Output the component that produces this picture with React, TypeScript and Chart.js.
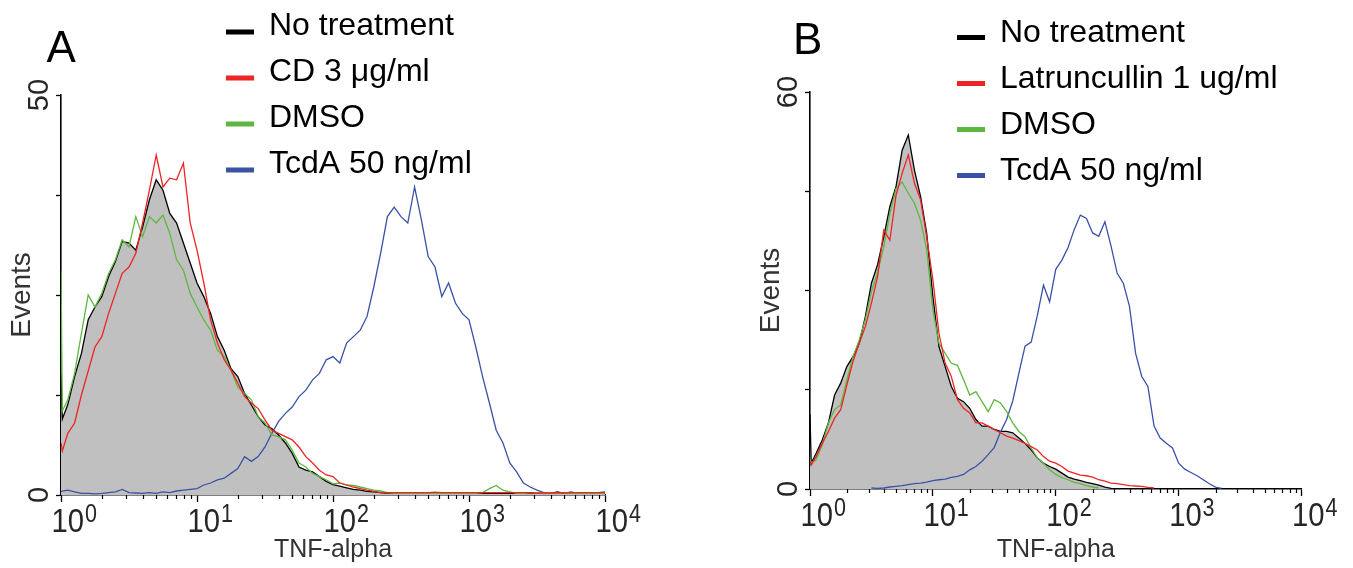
import React, { useEffect, useRef } from "react";
import { Chart, registerables } from "chart.js";

Chart.register(...registerables);

// TNF-alpha fluorescence channels (log spaced)
const TNF_CHANNELS = [
  1, 1.023, 1.122, 1.259, 1.413, 1.585, 1.778, 1.995, 2.239, 2.512, 2.818,
  3.162, 3.548, 3.981, 4.467, 5.012, 5.623, 6.31, 7.079, 7.943, 8.913,
  10, 11.22, 12.59, 14.13, 15.85, 17.78, 19.95, 22.39, 25.12, 28.18,
  31.62, 35.48, 39.81, 44.67, 50.12, 56.23, 63.1, 70.79, 79.43, 89.13,
  100, 112.2, 125.9, 141.3, 158.5, 177.8, 199.5, 223.9, 251.2, 281.8,
  316.2, 354.8, 398.1, 446.7, 501.2, 562.3, 631, 707.9, 794.3, 891.3,
  1000, 1122, 1259, 1413, 1585, 1778, 1995, 2239, 2512, 2818,
  3162, 3548, 3981, 4467, 5012, 5623, 6310, 7079, 7943, 8913,
  10000,
];

const X_TICKS = [
  1, 2, 3, 4, 5, 6, 7, 8, 9,
  10, 20, 30, 40, 50, 60, 70, 80, 90,
  100, 200, 300, 400, 500, 600, 700, 800, 900,
  1000, 2000, 3000, 4000, 5000, 6000, 7000, 8000, 9000,
  10000,
];
const DECADES = [1, 10, 100, 1000, 10000];
const DECADE_BASE = "10";
const DECADE_EXPONENTS = ["0", "1", "2", "3", "4"];

const Y_TICKS_A = [0, 12.5, 25, 37.5, 50];
const Y_TICKS_B = [0, 15, 30, 45, 60];

const LABELS_A = ["No treatment", "CD 3 \u03bcg/ml", "DMSO", "TcdA 50 ng/ml"];
const LABELS_B = ["No treatment", "Latruncullin 1 ug/ml", "DMSO", "TcdA 50 ng/ml"];

// Panel A
const A_NO_TREATMENT = [
  15, 9.5, 11.3, 14.8, 17.7, 21.9, 23.5, 24.8, 27.3, 29.2, 31.7, 31.5, 30.6, 33.5, 36.9, 39.4, 38.1, 35.2, 34, 31.5, 29,
  26.5, 24.8, 22.7, 19.8, 18.1, 15.8, 14.8, 12.7, 11.25, 9.8, 8.75, 8.3, 7.5, 6.5, 5.2, 3.5, 3.1, 2.9, 2.3, 1.7,
  1.3, 1.1, 0.9, 0.7, 0.6, 0.45, 0.4, 0.3, 0.25, 0.2, 0.2, 0.25, 0.2, 0.2, 0.2, 0.25, 0.2, 0.2, 0.2, 0.2,
  0.2, 0.2, 0.25, 0.2, 0.2, 0.2, 0.2, 0.2, 0.3, 0.2, 0.2, 0.2, 0.2, 0.4, 0.2, 0.2, 0.2, 0.2, 0.2, 0.2,
  0.2,
];
const A_CD = [
  6.5, 5.5, 7.7, 9, 12.5, 15.5, 18.5, 19.8, 22.7, 25.2, 27.7, 28.5, 30.2, 34, 38.1, 42.5, 38.5, 39.6, 39.4, 41.5, 34,
  30.6, 26.5, 21.9, 19, 16.9, 15.6, 14, 12.3, 11.5, 10.8, 9.4, 8.1, 7.7, 7.3, 6.9, 6, 4.8, 4, 3.1, 2.5,
  2.3, 1.5, 1.25, 1.0, 0.8, 0.6, 0.45, 0.3, 0.3, 0.3, 0.3, 0.3, 0.3, 0.3, 0.3, 0.35, 0.3, 0.3, 0.3, 0.3,
  0.3, 0.3, 0.3, 0.3, 0.3, 0.3, 0.3, 0.3, 0.3, 0.3, 0.25, 0.25, 0.25, 0.3, 0.25, 0.3, 0.3, 0.3, 0.3, 0.3,
  0.3,
];
const A_DMSO = [
  28, 10.5, 11.9, 15.2, 20.2, 25, 23.5, 25.2, 27.7, 29.4, 31.9, 31, 34.8, 32.3, 34.8, 34, 35, 32.7, 29.4, 28.1, 25.2,
  23.5, 21.9, 20.6, 18.1, 17.3, 15.6, 13.5, 12.7, 11.9, 9.8, 9, 7.5, 7.3, 6.9, 5.6, 4, 3.5, 2.7, 2.3, 1.9,
  1.4, 1.5, 1.25, 1.2, 1.0, 0.8, 0.6, 0.5, 0.3, 0.2, 0.2, 0.25, 0.2, 0.2, 0.2, 0.2, 0.2, 0.2, 0.2, 0.2,
  0.2, 0.2, 0.3, 0.8, 1.2, 0.6, 0.4, 0.2, 0.2, 0.3, 0.2, 0.2, 0.2, 0.2, 0.2, 0.2, 0.2, 0.2, 0.2, 0.2,
  0.2,
];
const A_TCDA = [
  0.4, 0.5, 0.6, 0.4, 0.2, 0.2, 0.15, 0.2, 0.3, 0.4, 0.7, 0.3, 0.25, 0.2, 0.3, 0.2, 0.4, 0.3, 0.5, 0.6, 0.7,
  0.8, 1.25, 1.5, 1.9, 2.1, 2.7, 3.3, 4.8, 4.2, 4.8, 6, 7.7, 9.2, 10.2, 11, 12.3, 13.1, 14.4, 15.2, 16.9,
  17.3, 16.5, 19, 19.8, 20.6, 22.3, 26, 30.2, 34.8, 36, 34.8, 34, 38.5, 34.4, 29.8, 28.5, 24.8, 26.5, 24, 22.7,
  21.9, 18.5, 14.8, 11.5, 8.1, 6.5, 4, 2.9, 1.5, 1.0, 0.6, 0.3, 0.2, 0.3, 0.2, 0.4, 0.2, 0.3, 0.2, 0.3,
  0.4,
];

// Panel B
const B_NO_TREATMENT = [
  11.2, 3.9, 5.4, 7.4, 10, 14.2, 16, 18.5, 20, 22, 26, 31.1, 33.9, 38.1, 42.7, 45.7, 51.2, 53.5, 48.2, 44.2, 38.6,
  29.1, 21.5, 18.5, 15.5, 13.7, 13.2, 12.2, 10.5, 9.5, 9.5, 9, 8.7, 8.7, 8.5, 7.7, 6.9, 5.9, 4.7, 3.9, 3.4,
  3.0, 2.4, 1.8, 1.5, 1.25, 1.0, 0.8, 0.6, 0.3, 0.1, 0, null, null, null, null, null, null, null, null, null,
  null, null, null, null, null, null, null, null, null, null, null, null, null, null, null, null, null, null, null, null,
  null,
];
const B_LATRUNCULLIN = [
  4.2, 3.6, 4.9, 6.9, 8.7, 10.7, 12, 15.7, 19.3, 22, 24.5, 28.1, 32.1, 39.1, 37.6, 44.4, 47.7, 50.5, 46.2, 43.7, 38.1,
  31.6, 23.5, 19, 17, 13.5, 12.2, 11.5, 10, 10, 9.5, 9, 8.5, 8, 7.7, 7.3, 6.9, 6.4, 5.9, 4.9, 4.2,
  3.9, 3.4, 2.7, 2.4, 2.1, 2.0, 1.8, 1.4, 1.2, 0.9, 0.8, 0.65, 0.5, 0.45, 0.4, 0.25, 0.15, null, null, null,
  null, null, null, null, null, null, null, null, null, null, null, null, null, null, null, null, null, null, null, null,
  null,
];
const B_DMSO = [
  4.5, 4.0, 4.4, 6.7, 10, 12, 12.7, 16.5, 20, 22.5, 25.6, 29.8, 32.8, 36.6, 41.6, 45.4, 46.4, 44.7, 43.2, 40.6, 36.1,
  27.1, 22, 20.5, 19, 18.7, 16.5, 14.2, 14.7, 13.2, 11.7, 13.5, 13, 11.7, 10, 8.7, 7.9, 6.2, 4.7, 3.9, 2.9,
  2.2, 1.7, 1.4, 1.0, 0.8, 0.5, 0.3, 0.15, null, null, null, null, null, null, null, null, null, null, null, null,
  null, null, null, null, null, null, null, null, null, null, null, null, null, null, null, null, null, null, null, null,
  null,
];
const B_TCDA = [
  null, null, null, null, null, null, null, null, null, null, null, 0.15, 0.1, 0.15, 0.3, 0.4, 0.5, 0.65, 0.8, 0.9, 1.05,
  1.25, 1.4, 1.5, 1.75, 1.9, 2.2, 2.9, 3.4, 4.2, 5.2, 6.3, 8.6, 10.5, 13.3, 17.5, 21.6, 22.2, 26.2, 30.8, 28.3,
  33.2, 34.6, 36.5, 39.2, 41.4, 40.9, 38.7, 38.2, 40.4, 36.7, 32.6, 31.1, 27.6, 20.5, 17, 15.5, 9.5, 7.7, 6.9, 6.2,
  3.9, 3.0, 2.5, 2.0, 1.4, 0.8, 0.3, 0.1, null, null, null, null, null, null, null, null, null, null, null, null,
  null,
];

const COLORS = ["#000000", "#ee2424", "#5cb83e", "#3a52a6"];
const FILL_GREY = "#c0c0c0";
const DRAW_ORDER = [4, 1, 2, 3];

const SANS = "'Liberation Sans', Arial, Helvetica, sans-serif";

const panelDecor = {
  id: "panelDecor",
  afterDraw(chart: any, _args: any, opts: any) {
    const ctx = chart.ctx;
    ctx.save();
    ctx.textAlign = "left";
    ctx.textBaseline = "alphabetic";
    ctx.fillStyle = "#000";
    ctx.font = `44px ${SANS}`;
    ctx.fillText(opts.letter, opts.letterX, opts.letterY);
    ctx.font = `32px ${SANS}`;
    chart.data.datasets.forEach((ds: any, i: number) => {
      const base = opts.legendY + i * opts.legendGap;
      ctx.fillStyle = ds.borderColor;
      ctx.fillRect(opts.markerX, base - opts.markerLift - 2.5, 28, 5);
      ctx.fillStyle = "#000";
      ctx.fillText(ds.label, opts.textX, base);
    });

    const xs = chart.scales.x;
    // minor ticks on the log axis
    ctx.strokeStyle = "#000";
    ctx.lineWidth = 1.2;
    for (const t of xs.ticks) {
      if (DECADES.includes(t.value)) continue;
      const px = Math.round(xs.getPixelForValue(t.value)) + 0.5;
      ctx.beginPath();
      ctx.moveTo(px, xs.top);
      ctx.lineTo(px, xs.top + 4);
      ctx.stroke();
    }
    // decade labels: "10" with raised exponent, condensed like the original
    ctx.fillStyle = "#262626";
    DECADES.forEach((v, k) => {
      const px = xs.getPixelForValue(v);
      ctx.save();
      ctx.translate(px - 9.5, xs.top + 37);
      ctx.scale(0.86, 1);
      ctx.font = `34px ${SANS}`;
      ctx.fillText(DECADE_BASE, 0, 0);
      const w = ctx.measureText(DECADE_BASE).width;
      ctx.font = `25px ${SANS}`;
      ctx.fillText(DECADE_EXPONENTS[k], w + 1, -10);
      ctx.restore();
    });
    ctx.restore();
  },
};

type Panel = {
  series: (number | null)[][];
  labels: string[];
  yMax: number;
  yTicks: number[];
  width: number;
  top: number;
  right: number;
  yWidth: number;
  xHeight: number;
  titlePad: number;
  decor: any;
};

function makeConfig(p: Panel): any {
  return {
    type: "line",
    data: {
      datasets: p.series.map((s, i) => ({
        label: p.labels[i],
        data: TNF_CHANNELS.map((x, j) => ({ x, y: s[j] })),
        borderColor: COLORS[i],
        backgroundColor: i === 0 ? FILL_GREY : "rgba(0,0,0,0)",
        fill: i === 0 ? "origin" : false,
        borderWidth: 1.3,
        pointRadius: 0,
        tension: 0,
        spanGaps: false,
        order: DRAW_ORDER[i],
      })),
    },
    options: {
      animation: false,
      responsive: false,
      devicePixelRatio: 1,
      layout: { padding: { left: 0, top: p.top, right: p.right, bottom: 0 } },
      plugins: {
        legend: { display: false },
        tooltip: { enabled: false },
        panelDecor: p.decor,
      },
      scales: {
        x: {
          type: "logarithmic",
          min: 1,
          max: 10000,
          afterBuildTicks: (s: any) => {
            s.ticks = X_TICKS.map((v) => ({ value: v, major: DECADES.includes(v) }));
          },
          afterFit: (s: any) => {
            s.height = p.xHeight;
          },
          grid: {
            drawOnChartArea: false,
            drawTicks: true,
            tickLength: 7,
            tickWidth: 1.3,
            tickColor: (c: any) =>
              c.tick && DECADES.includes(c.tick.value) ? "#000" : "rgba(0,0,0,0)",
          },
          border: { display: true, color: "#000", width: 1.6 },
          ticks: { display: false, autoSkip: false, maxRotation: 0, minRotation: 0 },
          title: {
            display: true,
            text: "TNF-alpha",
            color: "#333",
            font: { family: SANS, size: 25 },
            padding: { top: 0, bottom: 3 },
          },
        },
        y: {
          type: "linear",
          min: 0,
          max: p.yMax,
          afterBuildTicks: (s: any) => {
            s.ticks = p.yTicks.map((v) => ({ value: v }));
          },
          afterFit: (s: any) => {
            s.width = p.yWidth;
          },
          grid: {
            drawOnChartArea: false,
            drawTicks: true,
            tickLength: 5,
            tickWidth: 1.3,
            tickColor: "#000",
          },
          border: { display: true, color: "#000", width: 1.6 },
          ticks: {
            minRotation: 90,
            maxRotation: 90,
            crossAlign: "center",
            padding: 0,
            color: "#262626",
            font: { family: SANS, size: 29 },
            callback: (v: any) => (Number(v) === 0 || Number(v) === p.yMax ? String(v) : ""),
          },
          title: {
            display: true,
            text: "Events",
            color: "#333",
            font: { family: SANS, size: 28 },
            padding: { top: p.titlePad, bottom: 0 },
          },
        },
      },
    },
    plugins: [panelDecor],
  };
}

const PANEL_A: Panel = {
  series: [A_NO_TREATMENT, A_CD, A_DMSO, A_TCDA],
  labels: LABELS_A,
  yMax: 50,
  yTicks: Y_TICKS_A,
  width: 700,
  top: 95,
  right: 95,
  yWidth: 61,
  xHeight: 73,
  titlePad: 5.5,
  decor: {
    letter: "A",
    letterX: 46.5,
    letterY: 62,
    markerX: 226,
    textX: 269,
    legendY: 35,
    legendGap: 46,
    markerLift: 3,
  },
};

const PANEL_B: Panel = {
  series: [B_NO_TREATMENT, B_LATRUNCULLIN, B_DMSO, B_TCDA],
  labels: LABELS_B,
  yMax: 60,
  yTicks: Y_TICKS_B,
  width: 611,
  top: 92,
  right: 51.5,
  yWidth: 68,
  xHeight: 79,
  titlePad: 12,
  decor: {
    letter: "B",
    letterX: 51,
    letterY: 53.5,
    markerX: 215,
    textX: 258,
    legendY: 41.5,
    legendGap: 46,
    markerLift: 4,
  },
};

function PanelChart({ panel, left }: { panel: Panel; left: number }) {
  const ref = useRef<HTMLCanvasElement | null>(null);
  useEffect(() => {
    if (!ref.current) return;
    const chart = new Chart(ref.current, makeConfig(panel));
    return () => chart.destroy();
  }, [panel]);
  return (
    <canvas
      ref={ref}
      width={panel.width}
      height={568}
      style={{ position: "absolute", left, top: 0, width: panel.width, height: 568 }}
    />
  );
}

export default function App() {
  return (
    <div
      style={{
        position: "fixed",
        left: 0,
        top: 0,
        width: 1353,
        height: 568,
        background: "#ffffff",
        overflow: "hidden",
      }}
    >
      <PanelChart panel={PANEL_A} left={0} />
      <PanelChart panel={PANEL_B} left={742} />
    </div>
  );
}
